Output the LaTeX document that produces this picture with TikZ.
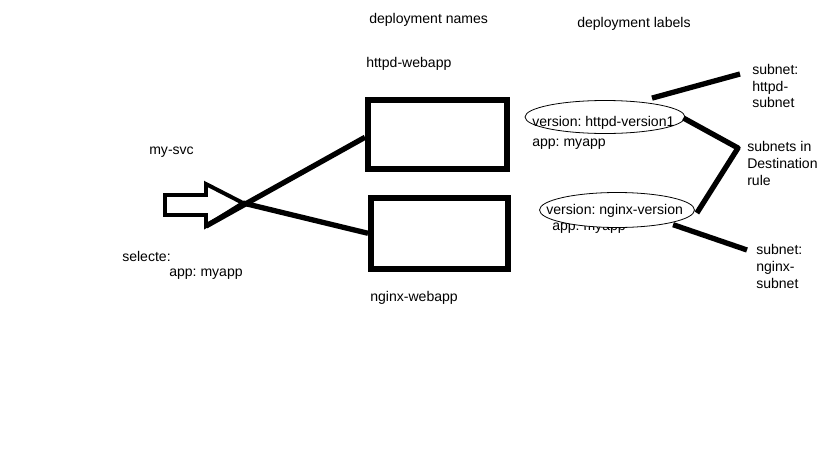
\documentclass[tikz,border=0pt]{standalone}
\usepackage{fontspec}
\setmainfont{Liberation Sans}
\usetikzlibrary{shapes.geometric,calc}
\frenchspacing

\tikzset{
  txt/.style={anchor=west, inner sep=0pt, align=left, font=\fontsize{10.6}{12.8}\selectfont},
  thickline/.style={line width=4pt, line join=round},
  box/.style={draw, line width=4.2pt, anchor=north west, inner sep=0pt},
  cloud/.style={draw, ellipse, semithick, inner sep=0pt}
}

\begin{document}
\begin{tikzpicture}[x=0.0265cm, y=-0.0265cm]
    \useasboundingbox (0,0) rectangle (819,460);

    % headings
    \node[txt] (names) at (369,20) {deployment names};
    \node[txt] (labels) at (577,24) {deployment labels};

    % deployments
    \node[txt] (httpd) at (366,64) {httpd-webapp};
    \node[box, minimum width=139*0.0265cm, minimum height=69*0.0265cm] (box1) at (365,97) {};
    \node[box, minimum width=137*0.0265cm, minimum height=71*0.0265cm] (box2) at (368,195) {};
    \node[txt] (nginx) at (370,298) {nginx-webapp};

    % service
    \node[txt] (svc) at (149,152) {my-svc};
    \node[txt] (sel) at (122,256) {selecte:};
    \node[txt] (selapp) at (169,274) {app: myapp};
    \coordinate (a1) at (165,195);
    \coordinate (a2) at (206,195);
    \coordinate (a3) at (206,184);
    \coordinate (tip) at (243,203);
    \coordinate (a5) at (206,226);
    \coordinate (a6) at (206,215);
    \coordinate (a7) at (165,215);
    \draw[line width=3pt, line join=miter] (a1) -- (a2) -- (a3) -- (tip) -- (a5) -- (a6) -- (a7) -- cycle;
    \draw[thickline] (a5) -- ($(box1.west)+(0,3)$);
    \draw[thickline] (tip) -- (box2.west);

    % labels
    \node[cloud, minimum width=160*0.0265cm, minimum height=33*0.0265cm] (ell1) at (605,117) {};
    \node[txt] (ver1) at (532,123) {version: httpd-version1};
    \node[txt] (app1) at (532,144) {app: myapp};
    \node[txt] (app2) at (552,228) {app: myapp};
    \node[cloud, fill=white, minimum width=155*0.0265cm, minimum height=35*0.0265cm] (ell2) at (617,210) {};
    \node[txt] (ver2) at (546,211) {version: nginx-version};

    % subnets
    \node[txt] (sub1) at (752,86) {subnet:\\httpd-\\subnet};
    \node[txt] (dest) at (747,163) {subnets in\\Destination\\rule};
    \node[txt] (sub2) at (756,266) {subnet:\\nginx-\\subnet};
    \coordinate (s1) at (740,74);
    \coordinate (bend) at (738,148);
    \coordinate (s2) at (747,250);
    \draw[thickline] ($(ell1.north)+(47,-2)$) -- (s1);
    \draw[thickline] ($(ell1.east)+(-2,1)$) -- (bend) -- ($(ell2.east)+(2,3)$);
    \draw[thickline] ($(ell2.south east)+(1,2)$) -- (s2);
\end{tikzpicture}
\end{document}
